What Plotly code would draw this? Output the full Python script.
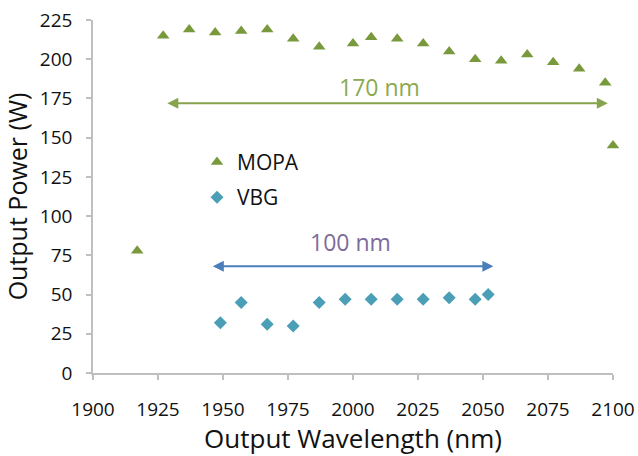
import plotly.graph_objects as go

# --- data ---
mopa_wl = [1917, 1927, 1937, 1947, 1957, 1967, 1977, 1987, 2000, 2007,
           2017, 2027, 2037, 2047, 2057, 2067, 2077, 2087, 2097, 2100]
mopa_pw = [78, 215, 219, 217, 218, 219, 213, 208, 210, 214,
           213, 210, 205, 200, 199, 203, 198, 194, 185, 145]

vbg_wl = [1949, 1957, 1967, 1977, 1987, 1997, 2007, 2017, 2027, 2037, 2047, 2052]
vbg_pw = [32, 45, 31, 30, 45, 47, 47, 47, 47, 48, 47, 50]

x_ticks = [1900, 1925, 1950, 1975, 2000, 2025, 2050, 2075, 2100]
y_ticks = [0, 25, 50, 75, 100, 125, 150, 175, 200, 225]

# span annotations: (start, end, level, label, label_x, label_y)
mopa_span = (1928, 2098, 172, "170 nm", 2010, 182)
vbg_span = (1945.5, 2054, 68, "100 nm", 1999, 83.5)

FONT = "Open Sans"
AXIS_GREY = "#BFBFBF"
GREEN = "#79993D"
TEAL = "#4A9FB6"

fig = go.Figure()
fig.add_trace(go.Scatter(
    x=mopa_wl, y=mopa_pw, mode="markers", name="MOPA", legendgroup="a",
    marker=dict(symbol="triangle-up", size=11, color=GREEN),
    cliponaxis=False))
fig.add_trace(go.Scatter(
    x=vbg_wl, y=vbg_pw, mode="markers", name="VBG", legendgroup="b",
    marker=dict(symbol="diamond", size=10, color=TEAL),
    cliponaxis=False))

def span(s, line_color, text_color):
    x0, x1, yv, label, lx, ly = s
    fig.add_annotation(x=x1, y=yv, ax=x0, ay=yv, xref="x", yref="y",
                       axref="x", ayref="y", text="", showarrow=True,
                       arrowside="end+start", arrowhead=2, startarrowhead=2,
                       arrowsize=1.1, startarrowsize=1.1, arrowwidth=2,
                       arrowcolor=line_color, standoff=0, startstandoff=0)
    fig.add_annotation(x=lx, y=ly, xref="x", yref="y", text=label,
                       showarrow=False,
                       font=dict(family=FONT, size=23, color=text_color))

span(mopa_span, "#86A34E", "#8AAA4F")
span(vbg_span, "#4A7EBB", "#7E6B99")

axis_common = dict(showline=True, linecolor=AXIS_GREY, linewidth=1.5,
                   ticks="outside", ticklen=5, tickcolor=AXIS_GREY,
                   tickwidth=1.5, showgrid=False, zeroline=False,
                   automargin=False)

fig.update_layout(
    width=638, height=456, autosize=False,
    margin=dict(l=93, r=25, t=20, b=83),
    paper_bgcolor="white", plot_bgcolor="white",
    font=dict(family=FONT, color="#111111"),
    showlegend=True,
    legend=dict(x=0.2, y=0.655, xanchor="left", yanchor="top",
                bgcolor="rgba(0,0,0,0)", tracegroupgap=5,
                font=dict(family=FONT, size=21, color="#111111"),
                itemwidth=30),
    xaxis=dict(range=[1900, 2100], tickvals=x_ticks,
               tickfont=dict(size=19), ticklabelstandoff=13,
               title=dict(text="Output Wavelength (nm)", font=dict(size=26),
                          standoff=14),
               **axis_common),
    yaxis=dict(range=[0, 225], tickvals=y_ticks,
               tickfont=dict(size=19), ticklabelstandoff=10,
               title=dict(text="Output Power (W)", font=dict(size=25),
                          standoff=8),
               **axis_common),
)

fig.write_html("out.html")
